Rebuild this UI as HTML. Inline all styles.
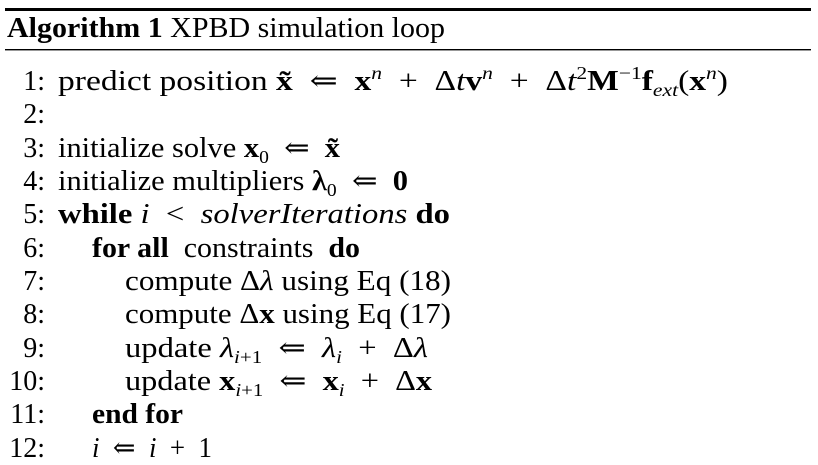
<!DOCTYPE html>
<html><head><meta charset="utf-8"><style>
html,body{margin:0;padding:0;background:#fff;}
svg{display:block;}
text{font-family:"Liberation Serif","DejaVu Serif",serif;font-size:28px;fill:#000;white-space:pre;}
.b{font-weight:bold;}
.i{font-style:italic;}
.s{font-size:18px;}
</style></head><body>
<svg width="818" height="465" viewBox="0 0 818 465">
<rect x="5" y="8" width="806" height="3" fill="#000"/>
<rect x="5" y="49" width="806" height="1.4" fill="#000"/>
<text x="7" y="37" textLength="438" lengthAdjust="spacingAndGlyphs"><tspan class="b">Algorithm 1</tspan> XPBD simulation loop</text>

<g text-anchor="end">
<text x="45" y="90">1:</text><text x="45" y="123">2:</text><text x="45" y="157">3:</text>
<text x="45" y="190">4:</text><text x="45" y="223">5:</text><text x="45" y="257">6:</text>
<text x="45" y="290">7:</text><text x="45" y="323">8:</text><text x="45" y="357">9:</text>
<text x="45" y="390">10:</text><text x="45" y="423">11:</text><text x="45" y="457">12:</text>
</g>

<text x="58" y="90" textLength="670" lengthAdjust="spacingAndGlyphs">predict position <tspan class="b">x̃</tspan>  ⇐  <tspan class="b">x</tspan><tspan class="i s" dy="-11">n</tspan><tspan dy="11">  +  Δ</tspan><tspan class="i">t</tspan><tspan class="b">v</tspan><tspan class="i s" dy="-11">n</tspan><tspan dy="11">  +  Δ</tspan><tspan class="i">t</tspan><tspan class="s" dy="-11">2</tspan><tspan class="b" dy="11">M</tspan><tspan class="s" dy="-11">−1</tspan><tspan class="b" dy="11">f</tspan><tspan class="i s" dy="6">ext</tspan><tspan dy="-6">(</tspan><tspan class="b">x</tspan><tspan class="i s" dy="-11">n</tspan><tspan dy="11">)</tspan></text>

<text x="58" y="157" textLength="282" lengthAdjust="spacingAndGlyphs">initialize solve <tspan class="b">x</tspan><tspan class="s" dy="6">0</tspan><tspan dy="-6">  ⇐  </tspan><tspan class="b">x̃</tspan></text>
<text x="58" y="190" textLength="350" lengthAdjust="spacingAndGlyphs">initialize multipliers <tspan class="b">λ</tspan><tspan class="s" dy="6">0</tspan><tspan dy="-6">  ⇐  </tspan><tspan class="b">0</tspan></text>
<text x="58" y="223" textLength="392" lengthAdjust="spacingAndGlyphs"><tspan class="b">while</tspan> <tspan class="i">i</tspan>  &lt;  <tspan class="i">solverIterations</tspan> <tspan class="b">do</tspan></text>
<text x="92" y="257" textLength="268" lengthAdjust="spacingAndGlyphs"><tspan class="b">for all</tspan>  constraints  <tspan class="b">do</tspan></text>
<text x="125" y="290" textLength="326" lengthAdjust="spacingAndGlyphs">compute Δ<tspan class="i">λ</tspan> using Eq (18)</text>
<text x="125" y="323" textLength="326" lengthAdjust="spacingAndGlyphs">compute Δ<tspan class="b">x</tspan> using Eq (17)</text>
<text x="125" y="357" textLength="303" lengthAdjust="spacingAndGlyphs">update <tspan class="i">λ</tspan><tspan class="s" dy="6"><tspan class="i">i</tspan>+1</tspan><tspan dy="-6">  ⇐  </tspan><tspan class="i">λ</tspan><tspan class="i s" dy="6">i</tspan><tspan dy="-6">  +  Δ</tspan><tspan class="i">λ</tspan></text>
<text x="125" y="390" textLength="307" lengthAdjust="spacingAndGlyphs">update <tspan class="b">x</tspan><tspan class="s" dy="6"><tspan class="i">i</tspan>+1</tspan><tspan dy="-6">  ⇐  </tspan><tspan class="b">x</tspan><tspan class="i s" dy="6">i</tspan><tspan dy="-6">  +  Δ</tspan><tspan class="b">x</tspan></text>
<text x="92" y="423" class="b" textLength="91" lengthAdjust="spacingAndGlyphs">end for</text>
<text x="92" y="457" textLength="120" lengthAdjust="spacingAndGlyphs"><tspan class="i">i</tspan>  ⇐  <tspan class="i">i</tspan>  +  1</text>
</svg>
</body></html>
